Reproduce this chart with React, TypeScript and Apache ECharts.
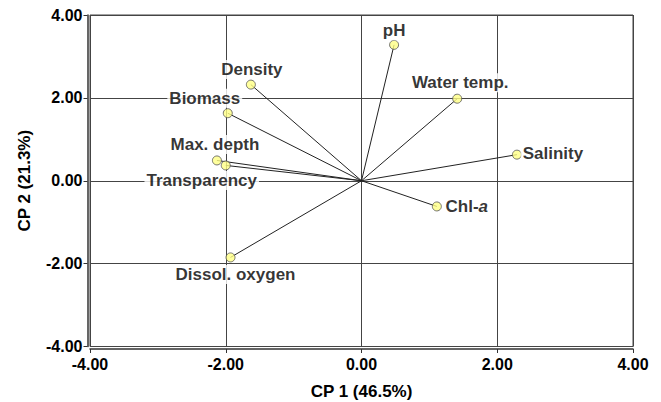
import React, { useEffect, useRef } from "react";
import * as echarts from "echarts";

const variables = ["pH", "Water temp.", "Salinity", "Chl-a", "Dissol. oxygen", "Transparency", "Max. depth", "Biomass", "Density"];
const cp1 = [0.48, 1.41, 2.29, 1.11, -1.93, -2.0, -2.13, -1.97, -1.63];
const cp2 = [3.28, 1.98, 0.63, -0.62, -1.85, 0.37, 0.49, 1.63, 2.32];
const xAxisName = "CP 1 (46.5%)";
const yAxisName = "CP 2 (21.3%)";

const labelOffsets: Record<string, number[]> = {
  "pH": [0, -14],
  "Water temp.": [3, -16],
  "Salinity": [36, -1],
  "Chl-a": [30, 0],
  "Dissol. oxygen": [5, 17],
  "Transparency": [-24, 15],
  "Max. depth": [-2, -16],
  "Biomass": [-23, -15],
  "Density": [1, -15],
};

const FONT = "'Liberation Sans', Arial, sans-serif";
const TXT = "#000";

export default function App() {
  const ref = useRef<HTMLDivElement>(null);
  useEffect(() => {
    if (!ref.current) return;
    const chart = echarts.init(ref.current, null, { renderer: "svg" });
    const axisLabel = {
      fontSize: 16,
      fontWeight: "bold",
      fontFamily: FONT,
      color: TXT,
      formatter: (v: number) => v.toFixed(2),
    };
    const nameStyle = { fontSize: 17, fontWeight: "bold", fontFamily: FONT, color: TXT };
    const vectorSeries = variables.map((n, i) => ({
      type: "line",
      name: n,
      data: [
        [0, 0],
        [cp1[i], cp2[i]],
      ],
      symbol: "none",
      silent: true,
      lineStyle: { color: "#222", width: 1 },
      z: 3,
    }));
    chart.setOption({
      animation: false,
      backgroundColor: "#fff",
      grid: {
        left: 90,
        right: 28,
        top: 15,
        bottom: 55.5,
        show: true,
        borderColor: "#444",
        borderWidth: 1,
        containLabel: false,
        outerBoundsMode: "none",
      },
      xAxis: {
        type: "value",
        min: -4,
        max: 4,
        interval: 2,
        offset: 2.5,
        name: xAxisName,
        nameLocation: "middle",
        nameGap: 34,
        nameTextStyle: nameStyle,
        axisLine: { show: true, onZero: false, lineStyle: { color: "#333", width: 1.5 } },
        axisTick: { show: true, length: 4, lineStyle: { color: "#333" } },
        axisLabel: { ...axisLabel, margin: 7 },
        splitLine: { show: true, lineStyle: { color: "#444", width: 1 } },
      },
      yAxis: {
        type: "value",
        min: -4,
        max: 4,
        interval: 2,
        offset: 2.5,
        name: yAxisName,
        nameLocation: "middle",
        nameGap: 55,
        nameTextStyle: nameStyle,
        axisLine: { show: true, onZero: false, lineStyle: { color: "#333", width: 1.5 } },
        axisTick: { show: true, length: 4, lineStyle: { color: "#333" } },
        axisLabel: { ...axisLabel, margin: 5 },
        splitLine: { show: true, lineStyle: { color: "#444", width: 1 } },
      },
      series: [
        ...vectorSeries,
        {
          type: "scatter",
          z: 5,
          symbol: "circle",
          symbolSize: 9,
          itemStyle: { color: "#ffff85", borderColor: "#555", borderWidth: 1 },
          label: {
            show: true,
            position: "inside",
            fontSize: 17,
            fontWeight: "bold",
            fontFamily: FONT,
            color: TXT,
            backgroundColor: "#fff",
            padding: [1, 2],
            formatter: (p: any) => (p.name === "Chl-a" ? "Chl-{i|a}" : p.name),
            rich: {
              i: { fontSize: 17, fontWeight: "bold", fontStyle: "italic", fontFamily: FONT, color: TXT },
            },
          },
          data: variables.map((n, i) => ({
            name: n,
            value: [cp1[i], cp2[i]],
            label: { offset: labelOffsets[n] },
          })),
        },
      ],
    });
    return () => chart.dispose();
  }, []);
  return (
    <div
      ref={ref}
      style={{ position: "fixed", left: 0, top: 0, width: 661, height: 402 }}
    />
  );
}
